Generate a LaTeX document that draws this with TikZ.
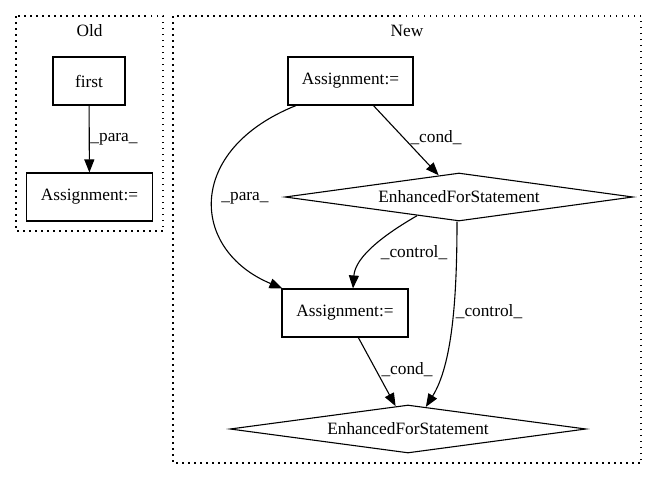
\documentclass[tikz,border=0pt]{standalone}
\usepackage{fontspec}
\setmainfont{Liberation Serif}
\usetikzlibrary{shapes.geometric,arrows.meta,calc}
\begin{document}
\begin{tikzpicture}[x=1pt,y=-1pt,
  font=\fontsize{17.3}{20}\selectfont,
  box/.style={draw,line width=1.1pt,minimum width=#1,minimum height=48,inner sep=0pt},
  dia/.style={draw,diamond,line width=1.1pt,aspect=7.3,inner sep=0pt,minimum width=#1,minimum height=48},
  edge/.style={-{Triangle[length=13pt,width=10pt]},line width=1.1pt},
  lbl/.style={inner sep=0pt},
  cluster/.style={draw,dash pattern=on 1.5pt off 4.5pt,line width=1.2pt}]
\useasboundingbox (0,0) rectangle (657,480);
% clusters
\draw[cluster] (16,16) rectangle (163,231);
\draw[cluster] (173,16) rectangle (641,463);
\node[lbl] (oldt) at (89.5,31) {Old};
\node[lbl] (newt) at (407,31) {New};
% Old nodes
\node[box=72] (first) at (89,81) {first};
\node[box=126] (oa) at (89.5,197) {Assignment:=};
\draw[edge] (first) -- (oa);
\node[lbl] (l1) at (114,139) {\_para\_};
% New nodes
\node[box=125] (na) at (350.5,81) {Assignment:=};
\node[dia=348] (d1) at (459,197) {EnhancedForStatement};
\node[box=126] (nb) at (345,313) {Assignment:=};
\node[dia=356] (d2) at (408,429) {EnhancedForStatement};
% edges
\draw[edge] (na) -- (d1);
\node[lbl] (l2) at (436,138) {\_cond\_};
\draw[edge] ([xshift=-54.5]na.south) .. controls (185,150) and (190,250) .. ([xshift=1]nb.north west);
\node[lbl] (l3) at (245,198) {\_para\_};
\draw[edge] ($(d1.south)!0.24!(d1.west)$) .. controls (375,240) and (355,260) .. ([xshift=8]nb.north);
\node[lbl] (l4) at (414,253) {\_control\_};
\draw[edge] ([xshift=-2]d1.south) .. controls (457,300) and (452,365) .. ($(d2.north)!0.1!(d2.east)$);
\node[lbl] (l5) at (489,312) {\_control\_};
\draw[edge] (nb) -- (d2);
\node[lbl] (l6) at (407,370) {\_cond\_};
\end{tikzpicture}
\end{document}
